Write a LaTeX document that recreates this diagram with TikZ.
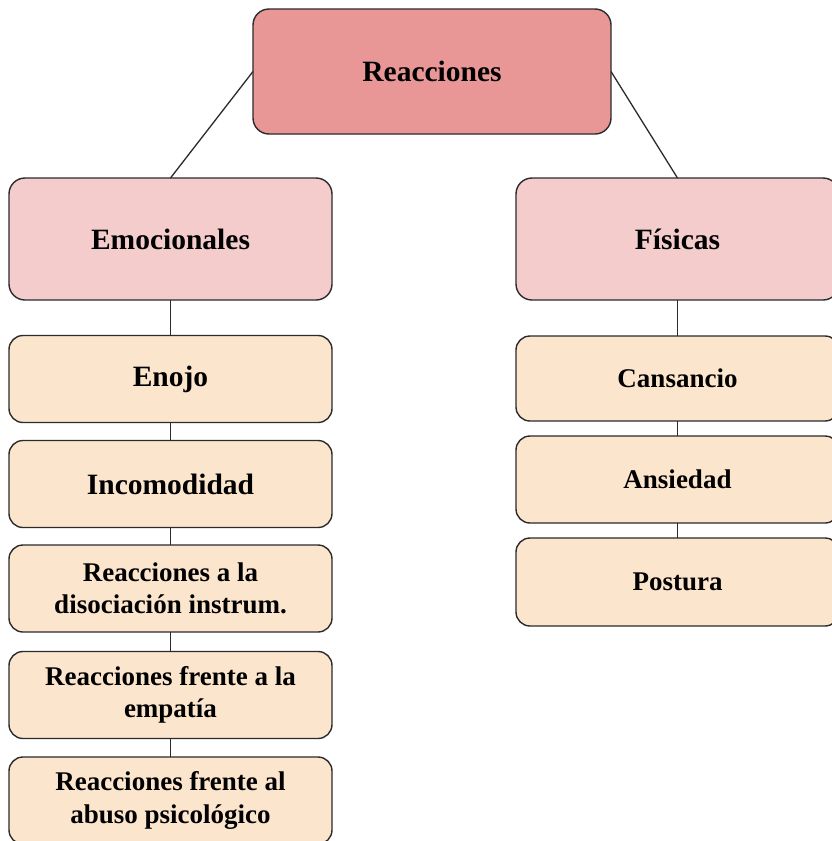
\documentclass[tikz,border=0pt]{standalone}
\usepackage{fontspec}
\setmainfont{Liberation Serif}
\definecolor{topfill}{HTML}{E99696}
\definecolor{midfill}{HTML}{F4CCCC}
\definecolor{itemfill}{HTML}{FCE5CD}
\definecolor{edgecol}{HTML}{2B2B2B}
\begin{document}
\begin{tikzpicture}[x=1pt,y=-1pt,
  box/.style={draw=edgecol, line width=1.4pt, rounded corners=16pt, align=center,
    inner sep=0pt, outer sep=0pt, text=black},
  rootbox/.style={box, fill=topfill, minimum width=358pt, minimum height=125pt,
    font=\fontsize{29.5}{34}\selectfont\bfseries},
  midbox/.style={box, fill=midfill, minimum width=323pt, minimum height=122pt,
    font=\fontsize{29.5}{34}\selectfont\bfseries},
  itembox/.style={box, fill=itemfill, minimum width=323pt, minimum height=87pt,
    rounded corners=14pt, font=\fontsize{27}{32.5}\selectfont\bfseries},
  bigitem/.style={itembox, font=\fontsize{29.5}{34}\selectfont\bfseries},
  link/.style={draw=edgecol, line width=1.3pt}]
\useasboundingbox (0,0) rectangle (831,841);
\fill[white] (0,0) rectangle (831,841);

\node[rootbox] (root) at (432,71.5) {Reacciones};
\node[midbox] (emo) at (170.5,239) {Emocionales};
\node[midbox] (fis) at (677.5,239) {Físicas};

\node[bigitem] (enojo) at (170.5,379) {Enojo};
\node[bigitem] (incom) at (170.5,484) {Incomodidad};
\node[itembox] (disoc) at (170.5,588.5) {Reacciones a la\\disociación instrum.};
\node[itembox] (empat) at (170.5,695) {Reacciones frente a la\\empatía};
\node[itembox] (abuso) at (170.5,800.5) {Reacciones frente al\\abuso psicológico};

\node[itembox, minimum height=85pt] (cans) at (677.5,378.5) {Cansancio};
\node[itembox] (ansi) at (677.5,479.5) {Ansiedad};
\node[itembox, minimum height=88pt] (post) at (677.5,582) {Postura};

\begin{scope}[on background layer/.try]
\end{scope}
\draw[link] (root.west) -- (emo.north);
\draw[link] (root.east) -- (fis.north);
\draw[link] (emo.south) -- (enojo.north);
\draw[link] (enojo.south) -- (incom.north);
\draw[link] (incom.south) -- (disoc.north);
\draw[link] (disoc.south) -- (empat.north);
\draw[link] (empat.south) -- (abuso.north);
\draw[link] (fis.south) -- (cans.north);
\draw[link] (cans.south) -- (ansi.north);
\draw[link] (ansi.south) -- (post.north);
\end{tikzpicture}
\end{document}
